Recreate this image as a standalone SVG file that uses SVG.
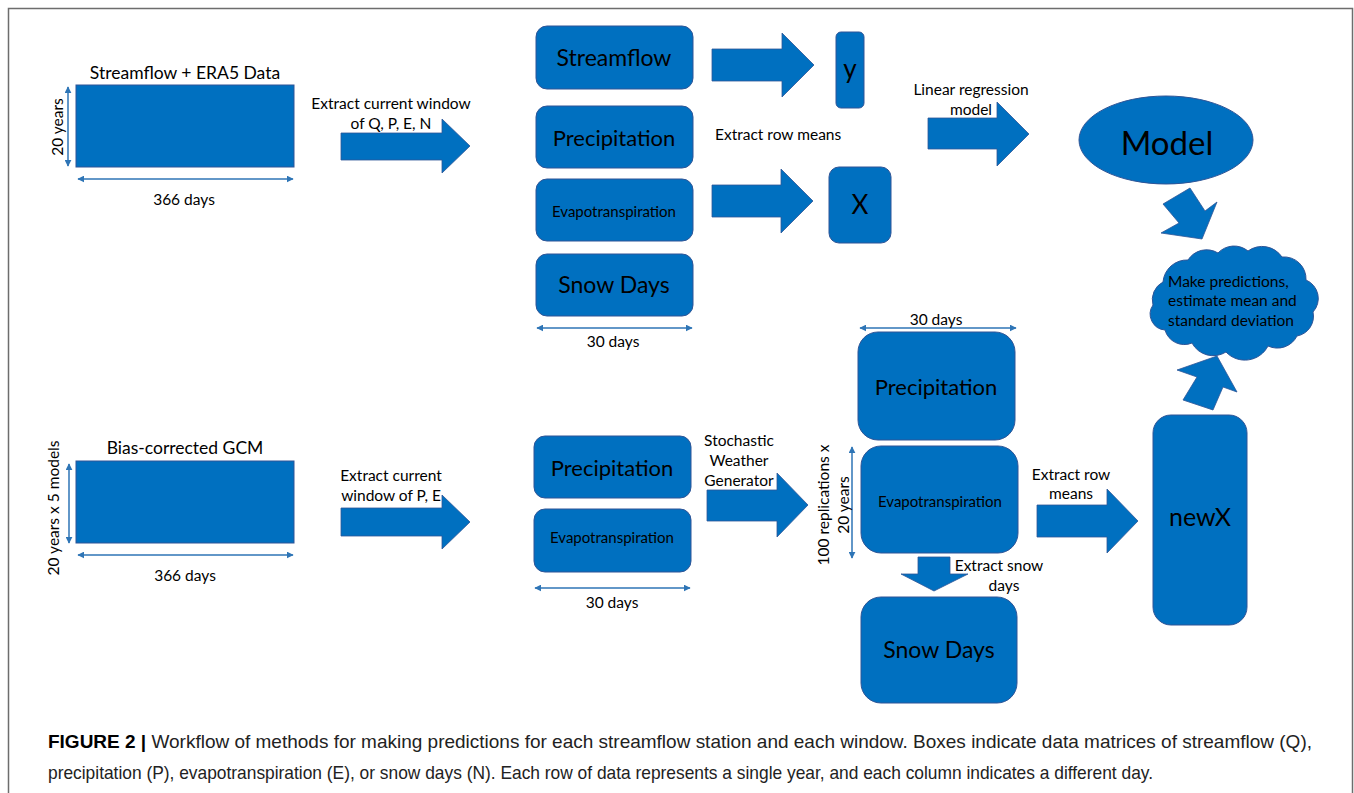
<svg xmlns="http://www.w3.org/2000/svg" width="1354" height="793" viewBox="0 0 1354 793">
<defs>
<style>
.box{fill:#0070C0;stroke:#2F5597;stroke-width:1}
.arr{fill:#0070C0;stroke:#2F5597;stroke-width:0.8}
.dim{stroke:#2E75B6;stroke-width:1.5;fill:none;marker-start:url(#ah);marker-end:url(#ah)}
.t{font-family:Lato,"Open Sans",sans-serif;fill:#000}
.c{text-anchor:middle}
.cap{font-family:"Liberation Sans",Arial,sans-serif;font-size:18.5px;fill:#222}
</style>
<marker id="ah" viewBox="0 0 10 10" refX="9" refY="5" markerWidth="7" markerHeight="7" orient="auto-start-reverse" markerUnits="userSpaceOnUse">
<path d="M0,0 L10,5 L0,10 z" fill="#2E75B6"/>
</marker>
</defs>
<rect x="0" y="0" width="1354" height="793" fill="#fff"/>
<rect x="8.5" y="8.5" width="1344" height="800" fill="none" stroke="#6d6d6d" stroke-width="1.5"/>

<!-- top left data -->
<g id="era5">
<text class="t c" x="185" y="79" font-size="17.5">Streamflow + ERA5 Data</text>
<rect x="76" y="85" width="218" height="82" fill="#0070C0" stroke="#2F5597" stroke-width="1"/>
<line class="dim" x1="68" y1="87" x2="68" y2="166"/>
<text class="t c" x="57" y="127" font-size="15.5" transform="rotate(-90 57 127)" dominant-baseline="central">20 years</text>
<line class="dim" x1="78" y1="179" x2="293" y2="179"/>
<text class="t c" x="184" y="205" font-size="15.5">366 days</text>
</g>

<g id="streamflow"><rect class="box" x="536" y="26" width="157" height="63" rx="11"/><text class="t c" x="614" y="66" font-size="23">Streamflow</text></g>
<g id="precip1"><rect class="box" x="536" y="106" width="157" height="62" rx="11"/><text class="t c" x="614" y="146" font-size="22">Precipitation</text></g>
<g id="evap1"><rect class="box" x="536" y="179" width="157" height="62" rx="11"/><text class="t c" x="614" y="217" font-size="15">Evapotranspiration</text></g>
<g id="snow1"><rect class="box" x="536" y="254" width="157" height="62" rx="11"/><text class="t c" x="614" y="293" font-size="23">Snow Days</text></g>
<g id="dim30a"><line class="dim" x1="537" y1="328" x2="692" y2="328"/><text class="t c" x="613" y="347" font-size="15.5">30 days</text></g>

<g id="ybox"><rect class="box" x="836" y="32" width="28" height="76" rx="5"/><text class="t c" x="850" y="78" font-size="26">y</text></g>
<g id="xbox"><rect class="box" x="829" y="167" width="62" height="76" rx="10"/><text class="t c" x="860" y="214" font-size="26">X</text></g>

<g id="model"><ellipse cx="1166" cy="140" rx="87" ry="44" fill="#0070C0" stroke="#2F5597" stroke-width="1"/><text class="t c" x="1167" y="155" font-size="33">Model</text></g>

<g id="cloud">
<path d="M1153,305 A20,20 0 0 1 1163,282 A24,24 0 0 1 1188,260 A22,22 0 0 1 1218,253 A22,22 0 0 1 1248,251 A24,24 0 0 1 1282,257 A22,22 0 0 1 1306,280 A20,20 0 0 1 1313,312 A20,20 0 0 1 1297,336 A22,22 0 0 1 1268,346 A26,26 0 0 1 1226,352 A24,24 0 0 1 1192,343 A20,20 0 0 1 1165,330 A16,16 0 0 1 1153,305 Z" fill="#0070C0" stroke="#2F5597" stroke-width="1"/>
<text class="t" x="1168" y="287" font-size="15.5">Make predictions,</text>
<text class="t" x="1168" y="306" font-size="15.5">estimate mean and</text>
<text class="t" x="1168" y="326" font-size="15.5">standard deviation</text>
</g>

<!-- bottom left -->
<g id="gcm">
<text class="t c" x="185" y="454" font-size="17.5">Bias-corrected GCM</text>
<rect x="76" y="461" width="218" height="82" fill="#0070C0" stroke="#2F5597" stroke-width="1"/>
<line class="dim" x1="69" y1="464" x2="69" y2="543"/>
<text class="t c" x="53" y="508" font-size="15.5" transform="rotate(-90 53 508)" dominant-baseline="central">20 years x 5 models</text>
<line class="dim" x1="78" y1="555" x2="293" y2="555"/>
<text class="t c" x="185" y="581" font-size="15.5">366 days</text>
</g>

<g id="precip2"><rect class="box" x="534" y="436" width="157" height="62" rx="11"/><text class="t c" x="612" y="476" font-size="22">Precipitation</text></g>
<g id="evap2"><rect class="box" x="534" y="509" width="157" height="63" rx="11"/><text class="t c" x="612" y="543" font-size="15">Evapotranspiration</text></g>
<g id="dim30b"><line class="dim" x1="535" y1="588" x2="690" y2="588"/><text class="t c" x="612" y="608" font-size="15.5">30 days</text></g>

<g id="precip3"><rect class="box" x="858" y="332" width="157" height="108" rx="20"/><text class="t c" x="936" y="395" font-size="22">Precipitation</text></g>
<g id="dim30c"><line class="dim" x1="860" y1="328" x2="1016" y2="328"/><text class="t c" x="936" y="325" font-size="15.5">30 days</text></g>
<g id="evap3"><rect class="box" x="861" y="446" width="157" height="107" rx="20"/><text class="t c" x="940" y="507" font-size="15">Evapotranspiration</text></g>
<g id="snow3"><rect class="box" x="861" y="597" width="156" height="106" rx="20"/><text class="t c" x="939" y="658" font-size="23">Snow Days</text></g>
<g id="dimrep">
<line class="dim" x1="852" y1="447" x2="852" y2="558"/>
<text class="t c" x="823" y="505" font-size="15.5" transform="rotate(-90 823 505)" dominant-baseline="central">100 replications x</text>
<text class="t c" x="843" y="505" font-size="15.5" transform="rotate(-90 843 505)" dominant-baseline="central">20 years</text>
</g>

<g id="newx"><rect class="box" x="1153" y="415" width="94" height="210" rx="18"/><text class="t c" x="1200" y="526" font-size="25">newX</text></g>

<!-- connectors -->
<g id="connectors">
<polygon class="arr" points="341,133 442,133 442,119 470,146 442,173 442,160 341,160"/>
<polygon class="arr" points="712,49 782,49 782,33 814,65 782,97 782,81 712,81"/>
<polygon class="arr" points="712,185 781,185 781,169 813,201 781,233 781,217 712,217"/>
<polygon class="arr" points="928,118 997,118 997,102 1029,134 997,166 997,149 928,149"/>
<polygon class="arr" points="1163,204 1190,188 1205,211 1217,202 1202,239 1161,233 1179,223"/>
<polygon class="arr" points="1183,400 1213,410 1223,387 1237,392 1217,356 1177,370 1197,377"/>
<polygon class="arr" points="341,508 442,508 442,495 470,522 442,549 442,536 341,536"/>
<polygon class="arr" points="707,490 777,490 777,473 808,505 777,537 777,521 707,521"/>
<polygon class="arr" points="918,557 950,557 950,574 968,574 934,591 901,574 918,574"/>
<polygon class="arr" points="1037,505 1107,505 1107,489 1138,521 1107,553 1107,537 1037,537"/>
</g>

<g id="labels">
<text class="t c" x="391" y="109" font-size="15.5">Extract current window</text>
<text class="t c" x="391" y="129" font-size="15.5">of Q, P, E, N</text>
<text class="t" x="715" y="140" font-size="15.5">Extract row means</text>
<text class="t c" x="971" y="95" font-size="15.5">Linear regression</text>
<text class="t c" x="971" y="115" font-size="15.5">model</text>
<text class="t c" x="391" y="481" font-size="15.5">Extract current</text>
<text class="t c" x="391" y="501" font-size="15.5">window of P, E</text>
<text class="t c" x="739" y="446" font-size="15.5">Stochastic</text>
<text class="t c" x="739" y="466" font-size="15.5">Weather</text>
<text class="t c" x="739" y="486" font-size="15.5">Generator</text>
<text class="t c" x="999" y="571" font-size="15.5">Extract snow</text>
<text class="t c" x="1004" y="591" font-size="15.5">days</text>
<text class="t c" x="1071" y="480" font-size="15.5">Extract row</text>
<text class="t c" x="1071" y="499" font-size="15.5">means</text>
</g>

<g id="caption">
<text class="cap" x="48" y="748" textLength="1264" lengthAdjust="spacingAndGlyphs"><tspan font-weight="bold" fill="#000">FIGURE 2 |</tspan> Workflow of methods for making predictions for each streamflow station and each window. Boxes indicate data matrices of streamflow (Q),</text>
<text class="cap" x="48" y="779" textLength="1105" lengthAdjust="spacingAndGlyphs">precipitation (P), evapotranspiration (E), or snow days (N). Each row of data represents a single year, and each column indicates a different day.</text>
</g>
</svg>
